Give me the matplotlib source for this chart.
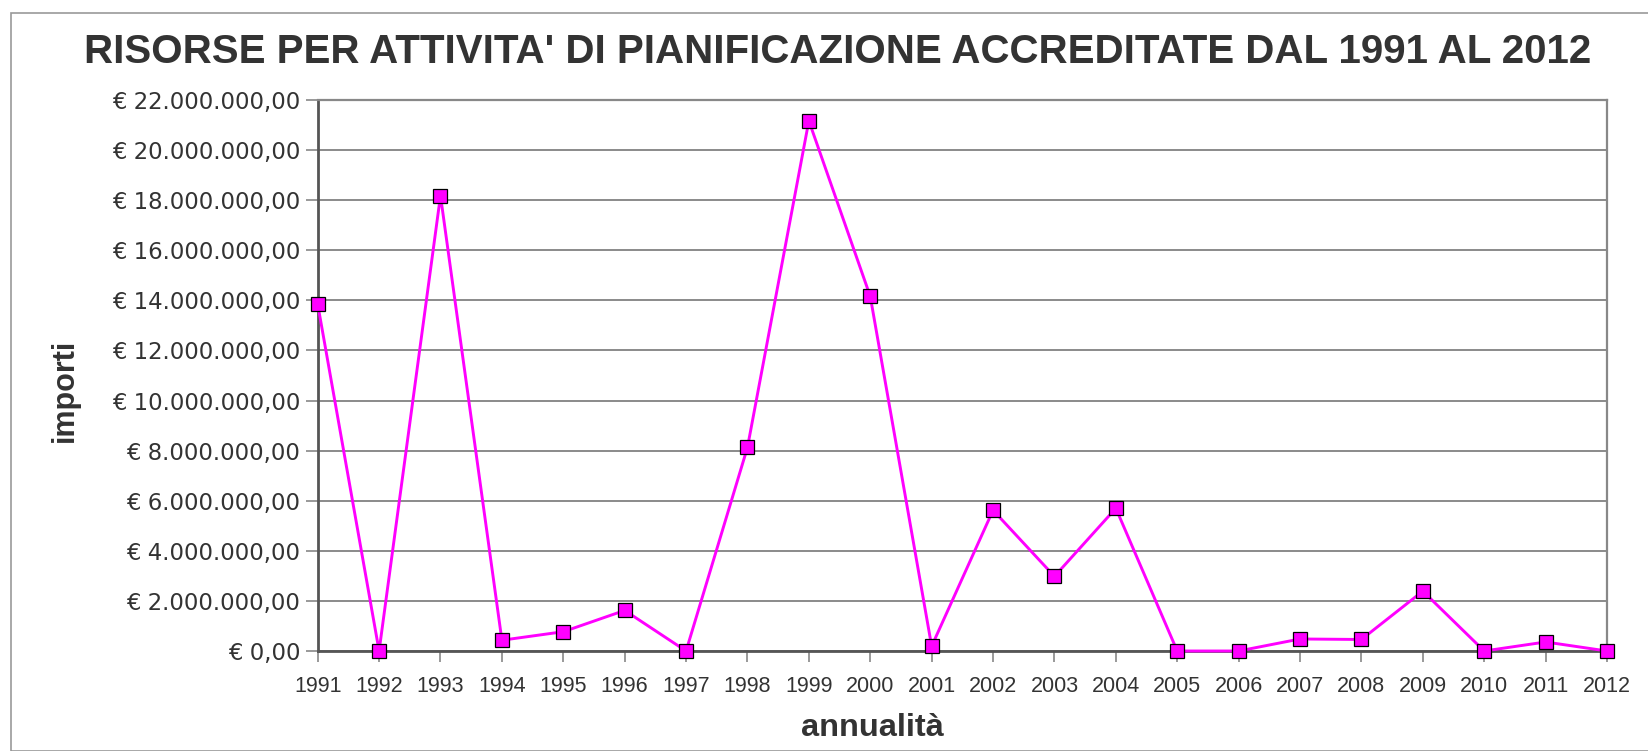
import matplotlib.pyplot as plt
import matplotlib.patches as mpatches
from matplotlib.ticker import FuncFormatter, MultipleLocator

# data (euro)
years = list(range(1991, 2013))
importi = [13850000, 0, 18180000, 430000, 770000, 1620000, 0, 8130000,
           21170000, 14160000, 190000, 5620000, 2980000, 5700000, 0, 0,
           480000, 460000, 2390000, 0, 360000, 0]

title = "RISORSE PER ATTIVITA' DI PIANIFICAZIONE ACCREDITATE DAL 1991 AL 2012"
text_col = '#333333'


def euro(v, pos):
    s = f"{v:,.2f}"
    s = s.replace(',', 'X').replace('.', ',').replace('X', '.')
    return "€ " + s


fig = plt.figure(figsize=(16.48, 7.51), dpi=100)

# outer chart frame
fig.patches.append(mpatches.Rectangle((11 / 1648, 0), 2, 1 - 13 / 751,
                                      transform=fig.transFigure, fill=False,
                                      edgecolor='#999999', lw=1.2))

ax = fig.add_axes([317.7 / 1648, 1 - 651 / 751, (1607 - 317.7) / 1648, (651 - 100) / 751])

ax.plot(years, importi, color='#ff00ff', lw=2.1, marker='s', markersize=9.5,
        markerfacecolor='#ff00ff', markeredgecolor='black', markeredgewidth=0.9,
        clip_on=False, zorder=5)

ax.set_xlim(1991, 2012)
ax.set_ylim(0, 22000000)
ax.set_xticks(years)
ax.yaxis.set_major_locator(MultipleLocator(2000000))
ax.yaxis.set_major_formatter(FuncFormatter(euro))

ax.grid(axis='y', color='#777777', lw=1.2)
ax.set_axisbelow(True)

for side in ['left', 'bottom']:
    ax.spines[side].set_color('#555555')
    ax.spines[side].set_linewidth(2)
for side in ['top', 'right']:
    ax.spines[side].set_color('#888888')
    ax.spines[side].set_linewidth(1.6)

ax.tick_params(axis='y', direction='out', length=8.5, width=1.2, color='#888888',
               labelsize=16.4, labelcolor=text_col, pad=4)
ax.tick_params(axis='x', direction='out', length=8, width=1.2, color='#888888',
               labelsize=15.5, labelcolor=text_col, pad=10)
for lab in ax.get_yticklabels():
    lab.set_family('DejaVu Sans')
for lab in ax.get_xticklabels():
    lab.set_family('Liberation Sans')

fig.text(838 / 1648, 1 - 52 / 751, title, ha='center', va='center', fontsize=29,
         fontweight='bold', family='Liberation Sans', color=text_col)
fig.text(65 / 1648, 1 - 390 / 751, 'importi', rotation=90, ha='center', va='center',
         fontsize=22, fontweight='bold', family='Liberation Sans', color=text_col)
fig.text(872 / 1648, 1 - 728 / 751, 'annualità', ha='center', va='center',
         fontsize=23.4, fontweight='bold', family='Liberation Sans', color=text_col)

fig.savefig('out.png', dpi=100)
